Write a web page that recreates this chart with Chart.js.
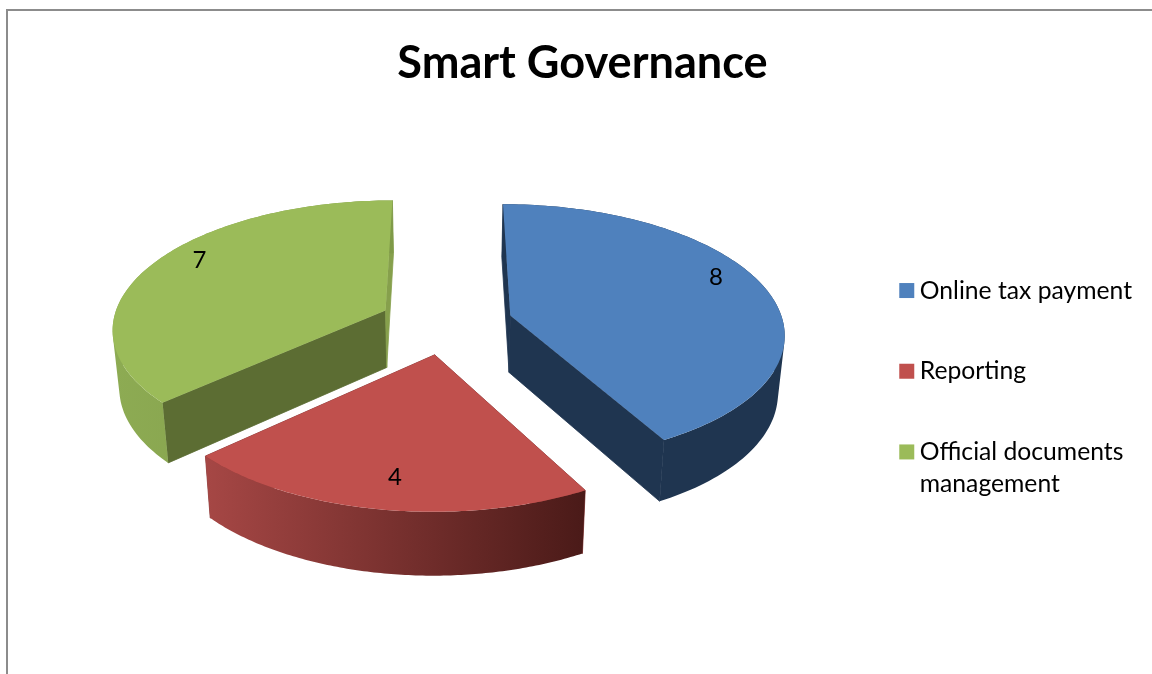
<!DOCTYPE html>
<html><head><meta charset="utf-8">
<style>html,body{margin:0;padding:0;background:#fff}canvas{display:block}</style>
<script src="https://cdn.jsdelivr.net/npm/chart.js@4"></script>
</head><body><canvas id="c" width="1152" height="674"></canvas>
<script>
const categories = ["Online tax payment", "Reporting", ["Official documents", "management"]];
const values = [8, 4, 7];
const topColors = ["#4f81bd", "#c0504d", "#9bbb59"];
const cutColors = ["#1f3550", "#8a3a38", "#5c6d33"];
const endCutColors = ["#1f3550", "#8a3a38", "#86a04c"];
const wallStops = [["#1f3550", "#1f3550"], ["#a64745", "#4a1a18"], ["#8dab53", "#7f9a48"]];
const labelFraction = [0.451, 0.488, 0.548];
const labelRadius = [0.86, 0.815, 0.855];

const view = {cx: 446, cy: 323, sx: 273, sy: 127.5, persp: 0.13, explode: 0.245};
const depth = {shrink: 0.98, y0: 372, yRef: 315, yScale: 1.035};
const legendShift = {x: -10, y: 54};
function project(X, Y) {
  const w = 1 - view.persp * Y;
  return [view.cx + view.sx * X / w, view.cy + view.sy * Y / w];
}
function lower(p) {
  return [view.cx + (p[0] - view.cx) * depth.shrink, depth.y0 + (p[1] - depth.yRef) * depth.yScale];
}
function addPoly(ctx, pts) {
  pts.forEach((p, i) => i ? ctx.lineTo(p[0], p[1]) : ctx.moveTo(p[0], p[1]));
  ctx.closePath();
}
function pathOf(ctx, pts) {
  ctx.beginPath();
  addPoly(ctx, pts);
}
function clockwise(pts) {
  let s = 0;
  pts.forEach((p, i) => {
    const q = pts[(i + 1) % pts.length];
    s += p[0] * q[1] - q[0] * p[1];
  });
  return s < 0 ? pts.slice().reverse() : pts;
}
const pie3d = {
  id: 'pie3d',
  afterLayout(chart) {
    const l = chart.legend;
    l.left += legendShift.x; l.right += legendShift.x;
    l.top += legendShift.y; l.bottom += legendShift.y;
  },
  beforeDraw(chart) {
    const ctx = chart.ctx;
    ctx.save();
    ctx.fillStyle = '#fff';
    ctx.fillRect(0, 0, chart.width, chart.height);
    ctx.strokeStyle = '#8c8c8c';
    ctx.lineWidth = 2;
    ctx.beginPath();
    ctx.moveTo(7, chart.height);
    ctx.lineTo(7, 10);
    ctx.lineTo(chart.width, 10);
    ctx.stroke();
    ctx.restore();
  },
  beforeDatasetDraw(chart, args) {
    const ctx = chart.ctx;
    const arcs = args.meta.data;
    const order = [2, 0, 1];
    ctx.save();
    order.forEach(i => {
      const {startAngle: a0, endAngle: a1} = arcs[i].getProps(['startAngle', 'endAngle'], true);
      const mid = (a0 + a1) / 2;
      const ox = Math.cos(mid) * view.explode, oy = Math.sin(mid) * view.explode;
      const apex = project(ox, oy);
      const rim = [];
      const n = 120;
      for (let k = 0; k <= n; k++) {
        const a = a0 + (a1 - a0) * k / n;
        rim.push(project(ox + Math.cos(a), oy + Math.sin(a)));
      }
      const lowRim = rim.map(lower);
      const lowApex = lower(apex);
      // cut walls, edged in their own colour so they run under the curved wall
      ctx.lineWidth = 0.8;
      ctx.lineJoin = 'round';
      ctx.fillStyle = ctx.strokeStyle = cutColors[i];
      pathOf(ctx, [apex, rim[0], lowRim[0], lowApex]); ctx.fill(); ctx.stroke();
      ctx.fillStyle = ctx.strokeStyle = endCutColors[i];
      pathOf(ctx, [apex, rim[n], lowRim[n], lowApex]); ctx.fill(); ctx.stroke();
      // curved outer wall: every rim segment in one path, all wound alike
      const xs = rim.map(p => p[0]);
      const g = ctx.createLinearGradient(Math.min(...xs), 0, Math.max(...xs), 0);
      g.addColorStop(0, wallStops[i][0]);
      g.addColorStop(1, wallStops[i][1]);
      ctx.fillStyle = g;
      ctx.beginPath();
      for (let k = 0; k < n; k++) {
        addPoly(ctx, clockwise([rim[k], rim[k + 1], lowRim[k + 1], lowRim[k]]));
      }
      ctx.fill();
      // top face
      ctx.fillStyle = topColors[i];
      pathOf(ctx, [apex].concat(rim)); ctx.fill();
    });
    // value labels
    ctx.fillStyle = '#000';
    ctx.font = '24px Lato, Carlito, sans-serif';
    ctx.textAlign = 'center';
    ctx.textBaseline = 'middle';
    arcs.forEach((arc, i) => {
      const {startAngle: a0, endAngle: a1} = arc.getProps(['startAngle', 'endAngle'], true);
      const mid = (a0 + a1) / 2;
      const a = a0 + (a1 - a0) * labelFraction[i];
      const p = project(Math.cos(mid) * view.explode + Math.cos(a) * labelRadius[i],
                        Math.sin(mid) * view.explode + Math.sin(a) * labelRadius[i]);
      ctx.fillText(String(values[i]), p[0], p[1]);
    });
    ctx.restore();
    return false;
  }
};
new Chart(document.getElementById('c'), {
  type: 'pie',
  data: {labels: categories, datasets: [{data: values, backgroundColor: topColors, borderWidth: 0}]},
  plugins: [pie3d],
  options: {
    responsive: false,
    animation: false,
    events: [],
    layout: {padding: {left: 13, right: 0, top: 0, bottom: 0}},
    plugins: {
      tooltip: {enabled: false},
      title: {display: true, text: 'Smart Governance', color: '#000',
        font: {family: 'Lato, Carlito, sans-serif', size: 45.1, weight: 'bold'},
        padding: {top: 36, bottom: 10}},
      legend: {position: 'right', align: 'center',
        labels: {color: '#000', usePointStyle: true, pointStyle: 'rect',
          boxWidth: 1.3, boxHeight: 15, padding: 56,
          font: {family: 'Lato, Carlito, sans-serif', size: 24.7, lineHeight: 1.3}}}
    }
  }
});
</script></body></html>
